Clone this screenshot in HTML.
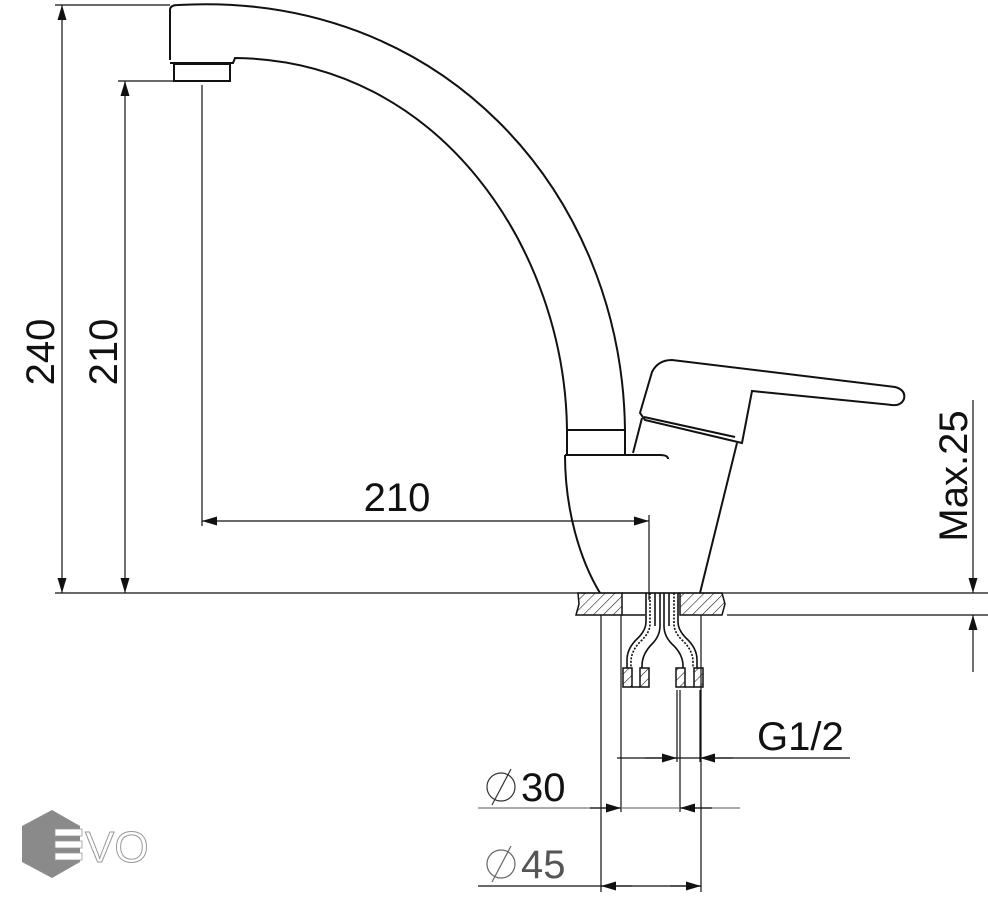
<!DOCTYPE html>
<html><head><meta charset="utf-8"><style>
html,body{margin:0;padding:0;background:#fff;}
svg{display:block}
text{font-family:"Liberation Sans",Arial,sans-serif;fill:#111}
</style></head><body>
<svg width="988" height="900" viewBox="0 0 988 900" xmlns="http://www.w3.org/2000/svg">
<defs>
<pattern id="h" width="7" height="7" patternUnits="userSpaceOnUse" patternTransform="rotate(45)">
<line x1="0" y1="0" x2="0" y2="7" stroke="#222" stroke-width="1.2"/>
</pattern>
<marker id="a" viewBox="0 0 10 6" refX="10" refY="3" markerWidth="30" markerHeight="9" markerUnits="userSpaceOnUse" orient="auto-start-reverse">
<path d="M0,0 L10,3 L0,6 Z" fill="#111"/>
</marker>
</defs>
<g stroke="#111" fill="none" stroke-width="1.2">
<line x1="55" y1="5" x2="170" y2="5"/>
<line x1="118" y1="81" x2="174" y2="81"/>
<line x1="55" y1="593" x2="988" y2="593"/>
<line x1="727" y1="615" x2="988" y2="615"/>
<line x1="202" y1="85" x2="202" y2="526"/>
<line x1="649" y1="515" x2="649" y2="600"/>
<line x1="62" y1="5" x2="62" y2="593" marker-start="url(#a)" marker-end="url(#a)"/>
<line x1="125" y1="81" x2="125" y2="593" marker-start="url(#a)" marker-end="url(#a)"/>
<line x1="202" y1="521" x2="649" y2="521" marker-start="url(#a)" marker-end="url(#a)"/>
<line x1="973" y1="400" x2="973" y2="593" marker-end="url(#a)"/>
<line x1="973" y1="672" x2="973" y2="615" marker-end="url(#a)"/>
<line x1="601" y1="615" x2="601" y2="892"/>
<line x1="701" y1="615" x2="701" y2="892"/>
<line x1="621" y1="615" x2="621" y2="812"/>
<line x1="680" y1="690" x2="680" y2="812"/>
<line x1="677" y1="690" x2="677" y2="762"/>
<line x1="700" y1="690" x2="700" y2="762"/>
<line x1="617" y1="758" x2="850" y2="758"/>
<line x1="645" y1="758" x2="677" y2="758" marker-end="url(#a)"/>
<line x1="733" y1="758" x2="700" y2="758" marker-end="url(#a)"/>
<line x1="478" y1="808" x2="740" y2="808" stroke="#777"/>
<line x1="590" y1="808" x2="621" y2="808" marker-end="url(#a)"/>
<line x1="712" y1="808" x2="680" y2="808" marker-end="url(#a)"/>
<line x1="478" y1="886" x2="701" y2="886"/>
<line x1="632" y1="886" x2="601" y2="886" marker-end="url(#a)"/>
<line x1="670" y1="886" x2="701" y2="886" marker-end="url(#a)"/>
</g>
<g stroke="#111" fill="none" stroke-width="2">
<path d="M170,60 L170,10 Q170,5 178,5 C440,-10 622,190 625,430"/>
<path d="M170,63 L233,63 L235,58 C440,60 565,250 567,430"/>
<rect x="174" y="64" width="56" height="17"/>
<rect x="567" y="430" width="58" height="25"/>
<path d="M565,455 L660,455 Q668,455 668,459"/>
<path d="M565,455 C565,510 580,560 600,593"/>
<path d="M737,443 L700,593"/>
<path d="M633,453 L642,418"/>
<path d="M640,413 L652,372 Q658,360 672,360 L895,387 Q906,390 904,399 Q901,406 892,405 L752,391 L742,443 L645,420 Z"/>
<path d="M644,417 L735,437"/>
</g>
<g stroke="#111" stroke-width="1.5">
<path d="M578,593 L622,593 L622,615 L576,615 L579,604 Z" fill="url(#h)"/>
<path d="M680,593 L722,593 L725,604 L722,615 L680,615 Z" fill="url(#h)"/>
<line x1="622" y1="593" x2="680" y2="593"/>
<line x1="622" y1="615" x2="645" y2="615"/>
</g>
<g stroke="#111" fill="none" stroke-width="1.6">
<path d="M646,593 L646,622 Q646,630 638,638 Q627,648 627,660 L627,668"/>
<path d="M650,593 L650,624 Q650,632 642,640 Q631,650 631,662 L631,668" stroke-dasharray="2,1.5"/>
<path d="M660,593 L660,626 Q660,636 652,644 Q642,654 642,666 L642,668"/>
<path d="M664,593 L664,626 Q664,636 672,644 Q683,654 683,666 L683,668"/>
<path d="M674,593 L674,624 Q674,632 682,640 Q693,650 693,662 L693,668" stroke-dasharray="2,1.5"/>
<path d="M678,593 L678,622 Q678,630 686,638 Q697,648 697,660 L697,668"/>
<line x1="655" y1="593" x2="655" y2="626"/>
<line x1="669" y1="593" x2="669" y2="626"/>
</g>
<g stroke="#111" stroke-width="1.5" fill="url(#h)">
<rect x="623" y="668" width="9" height="19"/>
<rect x="640" y="668" width="9" height="19"/>
<rect x="676" y="668" width="9" height="19"/>
<rect x="694" y="668" width="9" height="19"/>
</g>
<g stroke="#111" stroke-width="1.5"><line x1="632" y1="687" x2="640" y2="687"/><line x1="685" y1="687" x2="694" y2="687"/></g>
<text font-size="40" transform="translate(54,352) rotate(-90)" text-anchor="middle">240</text>
<text font-size="40" transform="translate(117,352) rotate(-90)" text-anchor="middle">210</text>
<text x="397" y="511" font-size="40" text-anchor="middle">210</text>
<text font-size="40" transform="translate(967,476) rotate(-90)" text-anchor="middle">Max.25</text>
<text x="757" y="750" font-size="40">G1/2</text>
<text x="521" y="801" font-size="40">30</text>
<text x="521" y="878" font-size="40" style="fill:#555">45</text>
<g fill="none" stroke="#333" stroke-width="1.2">
<circle cx="501" cy="787" r="14"/><line x1="492" y1="805" x2="511" y2="769"/>
<circle cx="501" cy="864" r="14" stroke="#666"/><line x1="492" y1="882" x2="511" y2="846" stroke="#666"/>
</g>
<polygon points="52,810 80,826 80,862 52,878 22,862 22,826" fill="#8a8a8a"/>
<g fill="#fff" stroke="#999" stroke-width="0.8">
<rect x="55" y="829" width="27" height="7"/><rect x="55" y="841" width="27" height="7"/><rect x="55" y="853" width="27" height="7"/>
</g>
<text x="85" y="862" font-size="44" style="fill:#fff;stroke:#999;stroke-width:1">VO</text>
</svg>
</body></html>
